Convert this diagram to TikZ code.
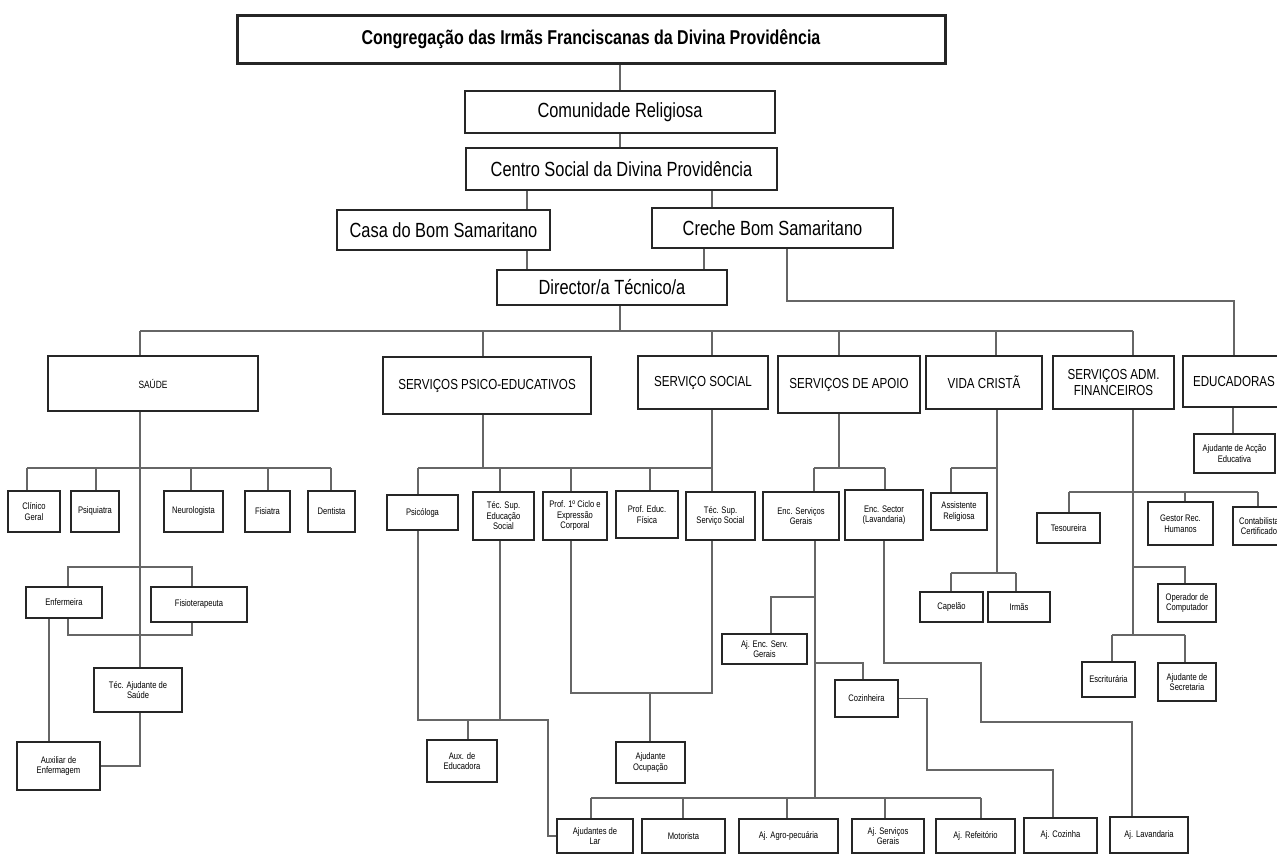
\documentclass[tikz,border=0pt]{standalone}
\usepackage{fontspec}
\setmainfont[FakeStretch=0.8]{Liberation Sans}
\usetikzlibrary{backgrounds}
\tikzset{
  box/.style={draw=black!85, line width=1.3pt, fill=white, inner sep=1pt, align=center},
  conn/.style={draw=black!60, line width=1.4pt},
  lone/.style={font=\fontsize{20.5}{24}\selectfont},
  ltwo/.style={font=\fontsize{14.5}{16}\selectfont},
  leaf/.style={font=\fontsize{9.5}{10.5}\selectfont},
}
\newcommand\Bx[7]{\node[box,#6, minimum width={(#4-#2)*1pt}, minimum height={(#5-#3)*1pt}] (#1) at ({(#2+#4)/2},{(#3+#5)/2}) {#7};}
\begin{document}
\begin{tikzpicture}[x=1pt,y=-1pt]
\useasboundingbox (0,0) rectangle (1277,855);
\clip (0,0) rectangle (1277,855);
% top levels
\Bx{title}{237}{15}{945}{63}{line width=3pt, font=\bfseries\fontsize{20}{24}\selectfont}{Congregação das Irmãs Franciscanas da Divina Providência}
\Bx{comun}{465}{91}{775}{133}{lone}{Comunidade Religiosa}
\Bx{centro}{466}{148}{777}{190}{lone}{Centro Social da Divina Providência}
\Bx{casa}{337}{210}{550}{250}{lone}{Casa do Bom Samaritano}
\Bx{creche}{652}{208}{893}{248}{lone}{Creche Bom Samaritano}
\Bx{dir}{497}{270}{727}{305}{lone}{Director/a Técnico/a}
% level two
\Bx{saude}{48}{356}{258}{411}{font=\fontsize{10.5}{12}\selectfont}{SAÚDE}
\Bx{psico}{383}{357}{591}{414}{ltwo}{SERVIÇOS PSICO-EDUCATIVOS}
\Bx{social}{638}{356}{768}{409}{ltwo}{SERVIÇO SOCIAL}
\Bx{apoio}{778}{356}{920}{413}{ltwo}{SERVIÇOS DE APOIO}
\Bx{vida}{926}{356}{1042}{409}{ltwo}{VIDA CRISTÃ}
\Bx{adm}{1053}{356}{1174}{409}{ltwo}{SERVIÇOS ADM.\\FINANCEIROS}
\Bx{educ}{1183}{356}{1285}{407}{ltwo}{EDUCADORAS}
% saude
\Bx{clin}{8}{491}{60}{532}{leaf}{Clínico\\Geral}
\Bx{psiq}{71}{491}{119}{532}{leaf}{Psiquiatra}
\Bx{neuro}{164}{491}{223}{532}{leaf}{Neurologista}
\Bx{fisiat}{245}{491}{290}{532}{leaf}{Fisiatra}
\Bx{dent}{308}{491}{355}{532}{leaf}{Dentista}
\Bx{enf}{26}{587}{102}{618}{leaf}{Enfermeira}
\Bx{fisio}{151}{587}{247}{622}{leaf}{Fisioterapeuta}
\Bx{tecaj}{94}{668}{182}{712}{leaf}{Téc. Ajudante de\\Saúde}
\Bx{auxenf}{17}{742}{100}{790}{leaf}{Auxiliar de\\Enfermagem}
% psico
\Bx{psicol}{387}{495}{458}{530}{leaf}{Psicóloga}
\Bx{tecse}{473}{492}{534}{540}{leaf}{Téc. Sup.\\Educação\\Social}
\Bx{prof1}{543}{492}{607}{540}{leaf}{Prof. 1º Ciclo e\\Expressão\\Corporal}
\Bx{profef}{616}{491}{678}{538}{leaf}{Prof. Educ.\\Física}
\Bx{tecss}{686}{492}{755}{540}{leaf}{Téc. Sup.\\Serviço Social}
\Bx{auxed}{427}{740}{497}{782}{leaf}{Aux. de\\Educadora}
\Bx{ajocup}{616}{742}{685}{783}{leaf}{Ajudante\\Ocupação}
% apoio
\Bx{encsg}{763}{492}{839}{540}{leaf}{Enc. Serviços\\Gerais}
\Bx{encsl}{845}{490}{923}{540}{leaf}{Enc. Sector\\(Lavandaria)}
\Bx{ajenc}{722}{634}{807}{664}{leaf}{Aj. Enc. Serv.\\Gerais}
\Bx{coz}{835}{680}{898}{717}{leaf}{Cozinheira}
% vida
\Bx{assrel}{931}{493}{987}{530}{leaf}{Assistente\\Religiosa}
\Bx{capelao}{920}{592}{983}{622}{leaf}{Capelão}
\Bx{irmas}{988}{592}{1050}{622}{leaf}{Irmãs}
% adm
\Bx{tes}{1037}{513}{1100}{543}{leaf}{Tesoureira}
\Bx{gestor}{1148}{502}{1213}{545}{leaf}{Gestor Rec.\\Humanos}
\Bx{contab}{1233}{507}{1285}{545}{leaf}{Contabilista\\Certificado}
\Bx{oper}{1158}{584}{1216}{622}{leaf}{Operador de\\Computador}
\Bx{escr}{1082}{662}{1135}{697}{leaf}{Escriturária}
\Bx{ajsec}{1158}{663}{1216}{701}{leaf}{Ajudante de\\Secretaria}
% educ
\Bx{ajae}{1194}{434}{1275}{473}{leaf}{Ajudante de Acção\\Educativa}
% bottom row
\Bx{ajlar}{557}{819}{633}{853}{leaf}{Ajudantes de\\Lar}
\Bx{motor}{642}{819}{725}{853}{leaf}{Motorista}
\Bx{agro}{739}{819}{838}{853}{leaf}{Aj. Agro-pecuária}
\Bx{ajsg}{852}{819}{924}{853}{leaf}{Aj. Serviços\\Gerais}
\Bx{ajref}{936}{819}{1015}{853}{leaf}{Aj. Refeitório}
\Bx{ajcoz}{1024}{818}{1097}{853}{leaf}{Aj. Cozinha}
\Bx{ajlav}{1110}{817}{1188}{853}{leaf}{Aj. Lavandaria}

\begin{pgfonlayer}{background}
\fill[white] (0,0) rectangle (1277,855);
\path[conn]
 (title.south -| comun.north) -- (comun.north)
 (comun.south) -- (comun.south |- centro.north)
 (centro.south -| 527,0) -- (casa.north -| 527,0)
 (centro.south -| 712,0) -- (creche.north -| 712,0)
 (casa.south -| 527,0) -- (dir.north -| 527,0)
 (creche.south -| 704,0) -- (dir.north -| 704,0)
 (creche.south -| 787,0) -- (787,301) -- (1234,301) -- (educ.north -| 1234,0)
 (dir.south -| 620,0) -- (620,331)
 (140,331) -- (1133,331)
 (140,331) -- (saude.north -| 140,0)
 (483,331) -- (psico.north -| 483,0)
 (712,331) -- (social.north -| 712,0)
 (839,331) -- (apoio.north -| 839,0)
 (996,331) -- (vida.north -| 996,0)
 (1133,331) -- (adm.north -| 1133,0)
 % saude
 (saude.south -| 140,0) |- (auxenf.east)
 (27,468) -- (331,468)
 (27,468) -- (clin.north -| 27,0)
 (96,468) -- (psiq.north -| 96,0)
 (191,468) -- (neuro.north -| 191,0)
 (268,468) -- (fisiat.north -| 268,0)
 (331,468) -- (dent.north -| 331,0)
 (enf.north -| 68,0) -- (68,567) -- (192,567) -- (fisio.north -| 192,0)
 (enf.south -| 68,0) -- (68,635) -- (192,635) -- (fisio.south -| 192,0)
 (enf.south -| 49,0) -- (auxenf.north -| 49,0)
 % psico
 (psico.south -| 483,0) -- (483,468)
 (418,468) -- (712,468)
 (418,468) -- (psicol.north -| 418,0)
 (500,468) -- (tecse.north -| 500,0)
 (571,468) -- (prof1.north -| 571,0)
 (650,468) -- (profef.north -| 650,0)
 (social.south -| 712,0) -- (tecss.north -| 712,0)
 (tecss.south -| 712,0) -- (712,693) -- (571,693) -- (prof1.south -| 571,0)
 (650,693) -- (ajocup.north -| 650,0)
 (psicol.south -| 418,0) -- (418,720) -- (548,720) |- (ajlar.west)
 (tecse.south -| 500,0) -- (500,720)
 (468,720) -- (auxed.north -| 468,0)
 % apoio
 (apoio.south -| 839,0) -- (839,468)
 (814,468) -- (885,468)
 (814,468) -- (encsg.north -| 814,0)
 (885,468) -- (encsl.north -| 885,0)
 (encsg.south -| 815,0) -- (815,798)
 (815,597) -- (771,597) -- (ajenc.north -| 771,0)
 (815,663) -- (863,663) -- (coz.north -| 863,0)
 (coz.east) -| (927,770) -| (ajcoz.north -| 1053,0)
 (encsl.south -| 884,0) -- (884,663) -- (981,663) -- (981,722) -| (ajlav.north -| 1132,0)
 (591,798) -- (981,798)
 (591,798) -- (ajlar.north -| 591,0)
 (683,798) -- (motor.north -| 683,0)
 (787,798) -- (agro.north -| 787,0)
 (885,798) -- (ajsg.north -| 885,0)
 (981,798) -- (ajref.north -| 981,0)
 % vida
 (vida.south -| 997,0) -- (997,573)
 (951,573) -- (1016,573)
 (951,573) -- (capelao.north -| 951,0)
 (1016,573) -- (irmas.north -| 1016,0)
 (951,468) -- (997,468)
 (951,468) -- (assrel.north -| 951,0)
 % adm
 (adm.south -| 1133,0) -- (1133,635)
 (1069,492) -- (1258,492)
 (1069,492) -- (tes.north -| 1069,0)
 (1185,492) -- (gestor.north -| 1185,0)
 (1258,492) -- (contab.north -| 1258,0)
 (1133,567) -- (1185,567) -- (oper.north -| 1185,0)
 (1112,635) -- (1185,635)
 (1112,635) -- (escr.north -| 1112,0)
 (1185,635) -- (ajsec.north -| 1185,0)
 % educ
 (educ.south -| 1233,0) -- (ajae.north -| 1233,0);
\end{pgfonlayer}
\end{tikzpicture}
\end{document}
